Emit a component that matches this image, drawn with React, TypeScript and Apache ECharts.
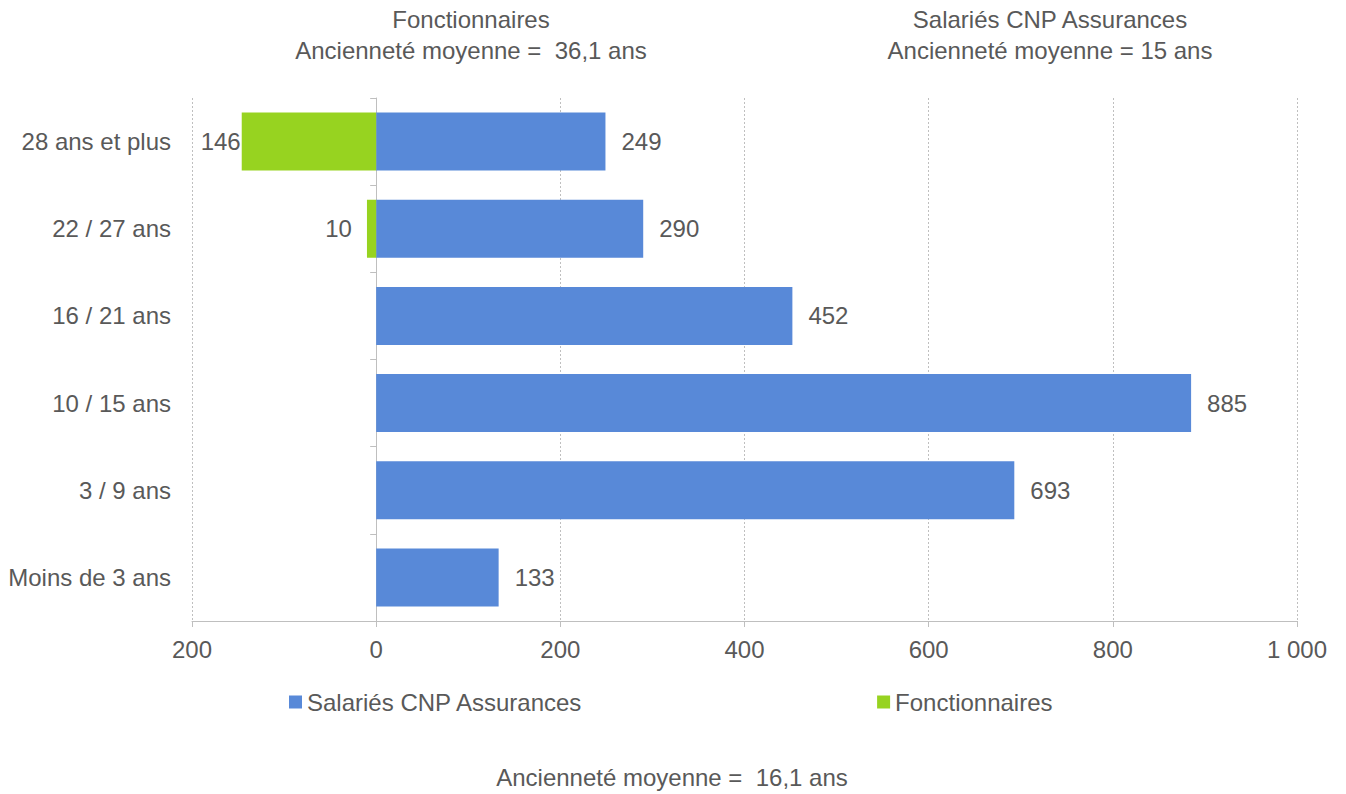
import React, { useEffect, useRef } from "react";
import * as echarts from "echarts";

const categories = ["Moins de 3 ans", "3 / 9 ans", "10 / 15 ans", "16 / 21 ans", "22 / 27 ans", "28 ans et plus"];
const salaries = [133, 693, 885, 452, 290, 249];
const fonctionnaires = [null, null, null, null, -10, -146];
const fonctLabelDistance = [5, 5, 5, 5, 15, 1];

const TEXT = "#595959";
const FONT = "Liberation Sans, Arial, sans-serif";
const FS = 24;

function fmt(v: number) {
  const a = Math.abs(v);
  return a >= 1000 ? Math.floor(a / 1000) + " " + String(a % 1000).padStart(3, "0") : String(a);
}

export default function App() {
  const ref = useRef<HTMLDivElement>(null);
  useEffect(() => {
    const chart = echarts.init(ref.current!, null, { renderer: "svg" });
    const ts = { fontSize: FS, fontWeight: "normal", color: TEXT, fontFamily: FONT, lineHeight: 31 };
    chart.setOption({
      animation: false,
      textStyle: { fontFamily: FONT, color: TEXT },
      title: [
        { text: "Fonctionnaires\nAncienneté moyenne =  36,1 ans", left: 471, top: 4, textAlign: "center", padding: 0, textStyle: ts },
        { text: "Salariés CNP Assurances\nAncienneté moyenne = 15 ans", left: 1050, top: 4, textAlign: "center", padding: 0, textStyle: ts },
        { text: "Ancienneté moyenne =  16,1 ans", left: 672, top: 762, textAlign: "center", padding: 0, textStyle: ts },
      ],
      legend: {
        left: 289, top: 690, padding: 0, itemWidth: 13, itemHeight: 13, itemGap: 294, icon: "rect",
        textStyle: { fontSize: FS, color: TEXT, fontFamily: FONT },
        data: ["Salariés CNP Assurances", "Fonctionnaires"],
      },
      grid: { left: 192, right: 49, top: 98, bottom: 173, containLabel: false, outerBoundsMode: "none" },
      xAxis: {
        type: "value", min: -200, max: 1000, interval: 200,
        axisLine: { show: true, lineStyle: { color: "#BFBFBF" } },
        axisTick: { show: true, length: 6, lineStyle: { color: "#BFBFBF" } },
        axisLabel: { formatter: (v: number) => fmt(v), fontSize: FS, color: TEXT, fontFamily: FONT, margin: 16 },
        splitLine: { show: true, lineStyle: { color: "#BFBFBF", type: [2, 2] } },
      },
      yAxis: {
        type: "category", data: categories,
        axisLine: { show: true, onZero: true, lineStyle: { color: "#BFBFBF" } },
        axisTick: { show: true, length: 6, lineStyle: { color: "#BFBFBF" } },
        axisLabel: { fontSize: FS, color: TEXT, fontFamily: FONT, margin: 21 },
      },
      series: [
        {
          name: "Salariés CNP Assurances", type: "bar", data: salaries, barWidth: 58, barGap: "-100%",
          itemStyle: { color: "#5889D8" },
          label: { show: true, position: "right", distance: 16, fontSize: FS, color: TEXT, fontFamily: FONT,
            formatter: (p: any) => fmt(p.value) },
        },
        {
          name: "Fonctionnaires", type: "bar", barWidth: 58,
          data: fonctionnaires.map((v, i) => ({ value: v, label: { distance: fonctLabelDistance[i] } })),
          itemStyle: { color: "#97D320" },
          label: { show: true, position: "left", fontSize: FS, color: TEXT, fontFamily: FONT,
            formatter: (p: any) => fmt(p.value) },
        },
      ],
    });
    return () => chart.dispose();
  }, []);
  return <div ref={ref} style={{ width: 1346, height: 794, position: "absolute", left: 0, top: 0 }} />;
}
